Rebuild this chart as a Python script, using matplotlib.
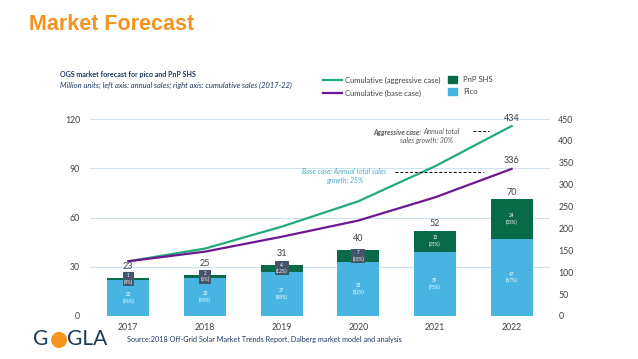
import matplotlib
matplotlib.use("Agg")
import matplotlib.pyplot as plt
import numpy as np
from matplotlib.lines import Line2D
from matplotlib.patches import Patch

plt.rcParams['font.family'] = ['Lato', 'DejaVu Sans']

years = ['2017', '2018', '2019', '2020', '2021', '2022']
pico = [22, 23, 27, 33, 39, 47]
pico_pct = ['96%', '94%', '88%', '82%', '75%', '67%']
pnp = [1, 2, 4, 7, 13, 24]
pnp_pct = ['4%', '6%', '12%', '18%', '25%', '33%']
totals = [23, 25, 31, 40, 52, 70]
cum_aggressive = [125, 154, 204, 262, 342, 434]
cum_base = [125, 147, 181, 218, 271, 336]

c_pico = '#47b4e2'
c_pnp = '#096a48'
c_aggr = '#21aa7c'
c_base = '#6c1890'
c_text = '#404040'
c_navy = '#1f3864'
c_grid = '#cbe4ef'

fig = plt.figure(figsize=(6.38, 3.59), dpi=100)
ax = fig.add_axes([0.141, 0.1198, 0.721, 0.5487])
x = np.arange(len(years))
w = 0.55

ax.bar(x, pico, w, color=c_pico, zorder=2)
ax.bar(x, pnp, w, bottom=pico, color=c_pnp, zorder=2)

for i in range(len(years)):
    ax.text(x[i], pico[i] / 2, f"{pico[i]}\n({pico_pct[i]})", ha='center', va='center',
            fontsize=3.3, color='white', zorder=4, linespacing=1.3)
    mid = pico[i] + pnp[i] / 2
    boxed = i < 4
    if boxed:
        ax.text(x[i], mid, f"{pnp[i]}\n({pnp_pct[i]})", ha='center', va='center',
                fontsize=3.3, color='white', zorder=4, linespacing=1.3,
                bbox=dict(boxstyle='square,pad=0.25', fc='#44546a', ec='none'))
    else:
        ax.text(x[i], mid, f"{pnp[i]}\n({pnp_pct[i]})", ha='center', va='center',
                fontsize=3.3, color='white', zorder=4, linespacing=1.3)
    ax.annotate(str(totals[i]), (x[i], pico[i] + pnp[i]),
                xytext=(0, 5 if boxed else 2), textcoords='offset points',
                ha='center', va='bottom', fontsize=6.5, color=c_text)

ax.set_xlim(-0.5, 5.5)
ax.set_ylim(0, 120)
ax.set_yticks([0, 30, 60, 90, 120])
ax.set_xticks(x)
ax.set_xticklabels(years)
ax.grid(axis='y', color=c_grid, lw=0.8, zorder=0)
ax.set_axisbelow(True)
for s in ax.spines.values():
    s.set_visible(False)
ax.tick_params(length=0, labelsize=6.3, colors=c_text, pad=7)
ax.tick_params(axis='x', pad=5)

ax2 = ax.twinx()
ax2.plot(x, cum_aggressive, color=c_aggr, lw=1.6, zorder=3)
ax2.plot(x, cum_base, color=c_base, lw=1.6, zorder=3)
ax2.set_ylim(0, 450)
ax2.set_yticks(range(0, 451, 50))
for s in ax2.spines.values():
    s.set_visible(False)
ax2.tick_params(length=0, labelsize=6.3, colors=c_text, pad=6)
for vals in (cum_aggressive, cum_base):
    ax2.annotate(str(vals[-1]), (x[-1], vals[-1]), xytext=(0, 2.5),
                 textcoords='offset points', ha='center', va='bottom',
                 fontsize=6.5, color=c_text)

# growth notes
fig.text(421 / 638, 1 - 132 / 359, 'Aggressive case:', ha='right', va='center',
         fontsize=5, style='italic', weight='bold', color='#595959')
fig.text(423 / 638, 1 - 132 / 359, 'Annual total', ha='left', va='center',
         fontsize=5, style='italic', color='#595959')
fig.text(426 / 638, 1 - 140 / 359, 'sales growth: 30%', ha='center', va='center',
         fontsize=5, style='italic', color='#595959')
fig.add_artist(Line2D([473 / 638, 489 / 638], [1 - 131 / 359] * 2, color='black',
                      lw=0.7, ls=(0, (3, 2))))
fig.text(344 / 638, 1 - 172 / 359, 'Base case: Annual total sales', ha='center', va='center',
         fontsize=5, style='italic', color='#4bacc6')
fig.text(345 / 638, 1 - 180 / 359, 'growth: 25%', ha='center', va='center',
         fontsize=5, style='italic', color='#4bacc6')
fig.add_artist(Line2D([395 / 638, 483 / 638], [1 - 172 / 359] * 2, color='black',
                      lw=0.7, ls=(0, (3, 2))))

# legends
h_lines = [Line2D([], [], color=c_aggr, lw=1.6), Line2D([], [], color=c_base, lw=1.6)]
fig.legend(h_lines, ['Cumulative (aggressive case)', 'Cumulative (base case)'],
           loc='upper left', bbox_to_anchor=(323 / 638, 1 - 77 / 359), frameon=False,
           fontsize=5.5, handlelength=2.5, handletextpad=0.4, borderpad=0,
           borderaxespad=0, labelspacing=0.75, labelcolor=c_text)
h_patch = [Patch(color=c_pnp), Patch(color=c_pico)]
fig.legend(h_patch, ['PnP SHS', 'Pico'],
           loc='upper left', bbox_to_anchor=(448 / 638, 1 - 76 / 359), frameon=False,
           fontsize=5.5, handlelength=1.2, handleheight=1.1, handletextpad=0.8,
           borderpad=0, borderaxespad=0, labelspacing=0.6, labelcolor=c_text)

# titles
fig.text(29 / 638, 1 - 24 / 359, 'Market Forecast', ha='left', va='center',
         fontsize=15.5, weight='bold', color='#f39323', family='Liberation Sans')
fig.text(60 / 638, 1 - 75 / 359, 'OGS market forecast for pico and PnP SHS', ha='left',
         va='center', fontsize=5.1, weight='bold', color=c_navy)
fig.text(60 / 638, 1 - 85 / 359,
         'Million units; left axis: annual sales; right axis: cumulative sales (2017-22)',
         ha='left', va='center', fontsize=5.5, style='italic', color=c_navy)
fig.text(127 / 638, 1 - 339 / 359,
         'Source:2018 Off-Grid Solar Market Trends Report, Dalberg market model and analysis',
         ha='left', va='center', fontsize=5.2, color=c_navy)

# logo
fig.text(33 / 638, 1 - 339 / 359, 'G', ha='left', va='center', fontsize=15,
         color='#1d3a5c')
fig.text(59 / 638, 1 - 339 / 359, '\u25cf', ha='center', va='center', fontsize=15,
         color='#f7941d', family='DejaVu Sans')
fig.text(67 / 638, 1 - 339 / 359, 'GLA', ha='left', va='center', fontsize=15,
         color='#1d3a5c')

fig.savefig('out.png', dpi=100)
